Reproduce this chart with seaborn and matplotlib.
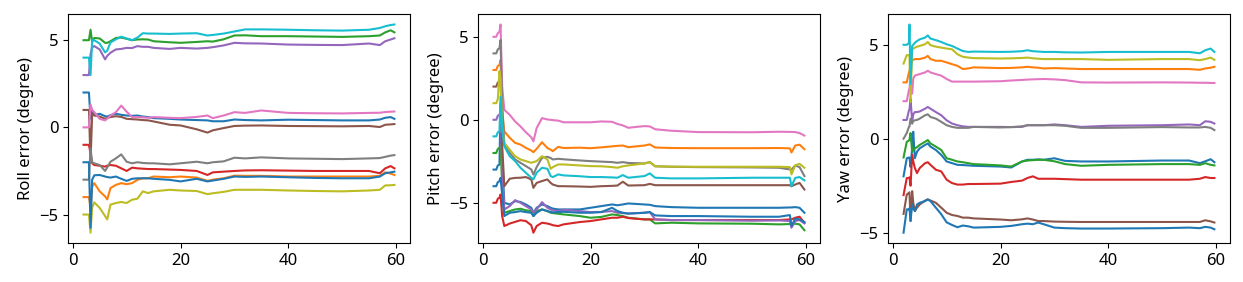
import matplotlib
matplotlib.use("Agg")
import matplotlib.pyplot as plt
import seaborn as sns
import pandas as pd

# ---------------- data ----------------
colors = ["#1f77b4", "#ff7f0e", "#2ca02c", "#d62728", "#9467bd",
          "#8c564b", "#e377c2", "#7f7f7f", "#bcbd22", "#17becf", "#1f77b4"]
series_names = ["s0", "s1", "s2", "s3", "s4", "s5", "s6", "s7", "s8", "s9", "s10"]

roll_t = [2.0, 3.0, 3.3, 3.6, 4.0, 5.0, 6.0, 6.4, 7.0, 8.0, 9.0, 10.0, 11.0, 12.0, 13.0, 14.0, 15.0,
          18.0, 20.0, 23.0, 25.0, 26.0, 28.0, 30.0, 32.0, 35.0, 40.0, 45.0, 50.0, 55.0, 57.0, 58.0, 59.0, 59.7]
roll_s0 = [2.0, 2.0, 0.5, 1.0, 0.7, 0.78, 0.64, 0.62, 0.7, 0.78, 0.72, 0.68, 0.66, 0.68, 0.62, 0.59, 0.53,
           0.49, 0.45, 0.42, 0.4, 0.35, 0.35, 0.45, 0.42, 0.4, 0.44, 0.42, 0.4, 0.4, 0.45, 0.55, 0.59, 0.49]
roll_s1 = [-4.0, -4.0, -4.6, -3.4, -3.2, -3.67, -3.96, -4.13, -3.48, -3.3, -3.2, -3.26, -3.2, -3.01, -2.92, -2.92, -2.82,
           -2.86, -2.82, -2.88, -3.07, -3.0, -2.92, -2.77, -2.78, -2.78, -2.82, -2.82, -2.82, -2.82, -2.78, -2.58, -2.65, -2.73]
roll_s2 = [5.0, 5.0, 5.6, 4.9, 5.13, 5.1, 4.85, 4.85, 4.94, 5.13, 5.15, 5.08, 5.0, 5.04, 5.05, 5.04, 4.94,
           4.88, 4.85, 4.9, 4.94, 4.92, 5.05, 5.27, 5.28, 5.23, 5.23, 5.21, 5.19, 5.23, 5.27, 5.45, 5.57, 5.45]
roll_s3 = [-1.0, -1.0, -1.5, -2.06, -2.16, -2.2, -2.25, -2.2, -2.16, -2.2, -2.35, -2.5, -2.31, -2.35, -2.37, -2.39, -2.39,
           -2.42, -2.44, -2.5, -2.73, -2.58, -2.54, -2.5, -2.47, -2.46, -2.48, -2.5, -2.5, -2.5, -2.63, -2.35, -2.22, -2.35]
roll_s4 = [3.0, 3.0, 4.2, 4.6, 4.66, 4.47, 3.9, 4.1, 4.28, 4.47, 4.5, 4.56, 4.55, 4.66, 4.62, 4.62, 4.56,
           4.5, 4.56, 4.52, 4.56, 4.6, 4.7, 4.85, 4.82, 4.81, 4.75, 4.73, 4.72, 4.81, 4.72, 4.94, 5.04, 5.11]
roll_s5 = [1.0, 1.0, -2.0, 0.8, 0.68, 0.62, 0.49, 0.55, 0.59, 0.64, 0.6, 0.49, 0.47, 0.45, 0.42, 0.4, 0.34,
           0.15, 0.11, -0.11, -0.3, -0.17, -0.04, 0.08, 0.1, 0.11, 0.08, 0.07, 0.06, 0.08, 0.02, 0.15, 0.17, 0.19]
roll_s6 = [0.0, 0.0, 1.3, 1.0, 0.87, 0.49, 0.4, 0.5, 0.68, 0.87, 1.25, 0.9, 0.59, 0.59, 0.57, 0.55, 0.59,
           0.55, 0.53, 0.6, 0.68, 0.53, 0.68, 0.87, 0.83, 0.97, 0.83, 0.81, 0.8, 0.83, 0.84, 0.88, 0.9, 0.91]
roll_s7 = [-3.0, -3.0, -1.2, -2.0, -2.06, -2.16, -2.5, -2.3, -1.97, -1.78, -1.55, -1.97, -2.06, -2.0, -2.04, -2.06, -2.06,
           -2.12, -2.06, -1.97, -2.06, -2.0, -1.95, -1.74, -1.78, -1.72, -1.78, -1.8, -1.82, -1.78, -1.76, -1.69, -1.62, -1.59]
roll_s8 = [-5.0, -5.0, -6.04, -4.6, -4.3, -4.62, -5.09, -5.28, -4.43, -4.34, -4.28, -4.34, -4.15, -4.09, -3.67, -3.77, -3.67,
           -3.58, -3.62, -3.65, -3.83, -3.78, -3.7, -3.58, -3.58, -3.58, -3.62, -3.65, -3.67, -3.62, -3.58, -3.33, -3.32, -3.3]
roll_s9 = [4.0, 4.0, 3.0, 5.0, 5.0, 4.8, 4.3, 4.4, 4.87, 5.05, 5.2, 5.1, 5.0, 5.15, 5.4, 5.38, 5.38,
           5.36, 5.38, 5.4, 5.27, 5.3, 5.38, 5.5, 5.62, 5.62, 5.6, 5.57, 5.55, 5.6, 5.7, 5.8, 5.87, 5.9]
roll_s10 = [-2.0, -2.0, -5.76, -3.0, -2.75, -2.73, -2.82, -2.85, -2.88, -2.82, -2.95, -3.07, -2.95, -2.92, -2.92, -2.92, -2.95,
            -3.01, -3.1, -2.95, -3.1, -3.05, -2.95, -2.82, -2.84, -2.82, -2.86, -2.9, -2.92, -2.92, -2.82, -2.63, -2.58, -2.54]

pitch_t = [2.0, 2.5, 2.8, 3.1, 3.3, 3.6, 4.0, 5.0, 6.0, 7.0, 8.0, 9.0, 9.4, 10.0, 11.0, 12.0, 12.6, 13.0, 14.0, 15.0,
           18.0, 20.0, 22.0, 24.0, 25.0, 26.0, 27.0, 30.0, 31.0, 32.0, 35.0, 40.0, 50.0, 55.0, 57.0, 57.3, 58.0, 58.8, 59.7]
pitch_s0 = [-3.0, -3.0, -2.75, -2.7, 1.0, -2.5, -5.0, -5.1, -4.9, -4.95, -5.1, -5.3, -5.6, -5.3, -5.1, -5.2, -5.3, -5.35, -5.4, -5.4,
            -5.4, -5.3, -5.2, -5.1, -5.15, -5.1, -5.04, -5.1, -5.12, -5.2, -5.26, -5.3, -5.3, -5.3, -5.28, -5.28, -5.26, -5.3, -5.6]
pitch_s1 = [3.0, 3.0, 3.25, 3.3, 3.6, 0.5, -0.7, -1.08, -1.39, -1.49, -1.69, -1.85, -1.95, -1.75, -1.35, -1.7, -1.8, -1.89, -1.63, -1.7,
            -1.68, -1.71, -1.66, -1.6, -1.57, -1.55, -1.65, -1.55, -1.48, -1.67, -1.7, -1.71, -1.71, -1.7, -1.72, -1.97, -1.55, -1.5, -1.77]
pitch_s2 = [-2.0, -2.0, -1.75, -1.7, -1.5, -4.0, -5.6, -5.5, -5.4, -5.36, -5.45, -5.5, -5.8, -5.5, -5.4, -5.5, -5.6, -5.62, -5.66, -5.7,
            -5.8, -5.9, -5.85, -5.7, -5.74, -5.8, -5.9, -6.0, -6.0, -6.24, -6.2, -6.24, -6.26, -6.3, -6.28, -6.28, -6.26, -6.3, -6.65]
pitch_s3 = [-5.0, -5.0, -4.75, -4.7, -4.5, -5.8, -6.4, -6.25, -6.15, -6.05, -6.1, -6.35, -6.8, -6.4, -6.2, -6.25, -6.3, -6.35, -6.4, -6.3,
            -6.16, -6.1, -6.0, -5.9, -5.9, -5.84, -5.92, -6.0, -6.0, -6.0, -6.04, -6.04, -6.04, -6.04, -6.0, -6.0, -5.9, -5.84, -6.2]
pitch_s4 = [0.0, 0.0, 0.25, 0.3, 0.5, -3.0, -5.4, -5.2, -4.84, -5.0, -5.2, -5.4, -5.6, -5.4, -4.96, -5.3, -5.4, -5.45, -5.5, -5.42,
            -5.5, -5.56, -5.55, -5.5, -5.6, -5.62, -5.65, -5.6, -5.56, -6.0, -6.04, -6.04, -6.08, -6.06, -6.1, -6.5, -6.1, -6.04, -6.24]
pitch_s5 = [2.0, 2.0, 2.25, 2.3, 2.5, -1.5, -4.0, -3.55, -3.5, -3.49, -3.45, -3.59, -4.1, -3.8, -3.69, -3.59, -3.8, -3.9, -4.0, -4.0,
            -4.02, -4.04, -4.0, -3.98, -3.96, -3.73, -3.96, -3.94, -3.86, -3.94, -3.94, -3.94, -3.94, -3.94, -3.94, -4.0, -3.9, -3.8, -4.2]
pitch_s6 = [5.0, 5.0, 5.22, 5.3, 5.74, 2.0, 0.6, 0.3, -0.1, -0.4, -0.75, -1.05, -1.3, -0.5, 0.1, 0.02, 0.0, -0.02, -0.05, -0.15,
            -0.15, -0.15, -0.1, -0.12, -0.25, -0.34, -0.48, -0.38, -0.4, -0.57, -0.66, -0.74, -0.75, -0.72, -0.73, -0.73, -0.74, -0.8, -0.95]
pitch_s7 = [4.0, 4.0, 4.25, 4.3, 4.8, 1.0, -1.5, -2.0, -2.39, -2.59, -2.79, -2.99, -3.3, -2.85, -2.29, -2.23, -2.3, -2.39, -2.35, -2.38,
            -2.45, -2.49, -2.52, -2.55, -2.59, -2.55, -2.6, -2.63, -2.55, -2.8, -2.83, -2.85, -2.87, -2.89, -2.99, -3.0, -2.75, -2.85, -3.39]
pitch_s8 = [1.0, 1.0, 1.25, 2.93, 2.5, -0.5, -1.4, -1.8, -2.19, -2.39, -2.49, -2.59, -2.55, -2.49, -2.19, -2.39, -2.95, -2.85, -2.69, -2.69,
            -2.75, -2.79, -2.8, -2.85, -2.89, -2.8, -2.75, -2.63, -2.55, -2.8, -2.82, -2.83, -2.83, -2.83, -2.85, -3.29, -2.75, -2.65, -2.89]
pitch_s9 = [-1.0, -1.0, -0.75, -0.7, 1.39, -0.5, -1.59, -2.19, -2.49, -2.89, -3.19, -3.49, -3.59, -3.19, -2.89, -2.95, -3.39, -3.45, -3.29, -3.35,
            -3.4, -3.45, -3.45, -3.47, -3.49, -3.33, -3.49, -3.39, -3.23, -3.49, -3.53, -3.53, -3.49, -3.49, -3.49, -4.0, -3.5, -3.45, -3.65]
pitch_s10 = [-4.0, -4.0, -3.75, -3.7, -3.5, -4.5, -5.8, -5.6, -5.56, -5.5, -5.56, -5.6, -5.8, -5.6, -5.4, -5.5, -5.55, -5.58, -5.56, -5.54,
             -5.6, -5.6, -5.56, -5.3, -5.5, -5.6, -5.65, -5.6, -5.56, -5.76, -5.8, -5.8, -5.84, -5.84, -5.74, -6.4, -5.95, -6.0, -6.16]

yaw_t = [2.0, 2.6, 3.0, 3.1, 3.3, 3.6, 3.8, 4.1, 4.5, 5.0, 6.0, 6.5, 7.0, 8.0, 9.0, 10.0, 11.0, 12.0, 13.0, 14.0, 15.0,
         20.0, 22.0, 24.0, 25.0, 26.0, 27.0, 28.0, 30.0, 32.0, 35.0, 40.0, 50.0, 55.0, 57.0, 58.0, 59.0, 59.7]
yaw_s0 = [-2.0, -1.04, -1.0, -1.0, -1.5, -0.5, 0.37, -1.04, -0.69, -0.51, -0.33, -0.25, -0.42, -0.6, -0.86, -1.21, -1.3, -1.39, -1.4, -1.42, -1.44,
          -1.48, -1.53, -1.21, -1.12, -1.12, -1.1, -1.12, -1.04, -1.18, -1.21, -1.21, -1.16, -1.16, -1.3, -1.2, -1.09, -1.25]
yaw_s1 = [3.0, 3.0, 3.53, 3.6, 3.88, 4.15, 4.2, 4.24, 4.24, 4.24, 4.32, 4.41, 4.24, 4.15, 4.15, 4.06, 3.97, 3.88, 3.71, 3.74, 3.8,
          3.76, 3.77, 3.8, 3.83, 3.8, 3.78, 3.74, 3.76, 3.74, 3.71, 3.71, 3.71, 3.71, 3.67, 3.74, 3.78, 3.83]
yaw_s2 = [-1.0, -0.16, -0.1, -0.05, 0.3, -0.69, -0.6, -0.51, -0.45, -0.33, -0.16, -0.07, -0.25, -0.42, -0.6, -1.04, -1.12, -1.21, -1.25, -1.3, -1.35,
          -1.42, -1.48, -1.21, -1.16, -1.14, -1.12, -1.12, -1.2, -1.35, -1.44, -1.39, -1.35, -1.35, -1.39, -1.3, -1.39, -1.42]
yaw_s3 = [-3.0, -2.09, -2.09, -2.05, -2.5, -0.86, -1.2, -1.56, -1.83, -1.56, -1.3, -1.25, -1.39, -1.65, -1.74, -2.18, -2.36, -2.44, -2.44, -2.41, -2.41,
          -2.39, -2.3, -2.23, -2.09, -2.0, -2.13, -2.13, -2.13, -2.15, -2.18, -2.18, -2.18, -2.18, -2.13, -2.04, -2.09, -2.09]
yaw_s4 = [1.0, 1.0, 1.51, 1.55, 2.13, 0.9, 1.3, 1.42, 1.42, 1.45, 1.6, 1.69, 1.6, 1.42, 1.25, 0.98, 0.81, 0.72, 0.66, 0.63, 0.63,
          0.63, 0.62, 0.63, 0.72, 0.72, 0.72, 0.72, 0.76, 0.72, 0.63, 0.69, 0.72, 0.76, 0.72, 0.93, 0.9, 0.81]
yaw_s5 = [-4.0, -2.97, -2.88, -2.85, -4.38, -2.79, -3.4, -3.85, -3.67, -3.5, -3.29, -3.23, -3.29, -3.41, -3.67, -3.94, -4.06, -4.11, -4.2, -4.2, -4.24,
          -4.3, -4.34, -4.29, -4.24, -4.3, -4.38, -4.38, -4.41, -4.42, -4.43, -4.43, -4.43, -4.43, -4.43, -4.34, -4.4, -4.46]
yaw_s6 = [2.0, 2.0, 2.6, 2.65, 3.3, 2.4, 3.2, 3.36, 3.4, 3.44, 3.53, 3.62, 3.53, 3.44, 3.36, 3.18, 3.04, 3.04, 3.04, 3.04, 3.04,
          3.06, 3.1, 3.13, 3.15, 3.16, 3.17, 3.18, 3.16, 3.12, 3.0, 2.99, 3.0, 2.99, 2.98, 2.98, 2.97, 2.97]
yaw_s7 = [0.0, 0.3, 0.63, 0.65, 1.07, 0.8, 0.95, 0.98, 1.0, 1.07, 1.25, 1.3, 1.16, 1.07, 0.9, 0.72, 0.63, 0.58, 0.58, 0.58, 0.63,
          0.6, 0.62, 0.66, 0.72, 0.72, 0.72, 0.72, 0.72, 0.69, 0.58, 0.58, 0.62, 0.6, 0.6, 0.63, 0.58, 0.46]
yaw_s8 = [4.0, 4.45, 4.45, 4.4, 1.95, 4.76, 4.8, 4.85, 4.9, 4.94, 5.03, 5.15, 4.98, 4.9, 4.85, 4.8, 4.76, 4.5, 4.36, 4.32, 4.29,
          4.27, 4.28, 4.3, 4.32, 4.28, 4.26, 4.24, 4.24, 4.24, 4.24, 4.2, 4.24, 4.24, 4.18, 4.24, 4.32, 4.2]
yaw_s9 = [5.0, 5.0, 5.1, 6.08, 2.9, 4.94, 5.0, 5.11, 5.2, 5.29, 5.38, 5.5, 5.33, 5.25, 5.15, 5.03, 4.94, 4.8, 4.67, 4.62, 4.64,
          4.62, 4.63, 4.66, 4.71, 4.66, 4.64, 4.62, 4.62, 4.6, 4.59, 4.62, 4.62, 4.62, 4.55, 4.71, 4.8, 4.62]
yaw_s10 = [-5.0, -3.76, -3.76, -3.7, -4.38, -3.5, -3.7, -3.85, -3.5, -3.41, -3.32, -3.23, -3.32, -3.67, -4.02, -4.45, -4.59, -4.71, -4.62, -4.66, -4.73,
           -4.69, -4.64, -4.55, -4.52, -4.55, -4.46, -4.55, -4.73, -4.76, -4.78, -4.78, -4.76, -4.73, -4.76, -4.69, -4.73, -4.82]

panel_labels = ["Roll error (degree)", "Pitch error (degree)", "Yaw error (degree)"]
x_ticks = [0, 20, 40, 60]
y_ticks = [-5, 0, 5]

panels = [
    (roll_t, [roll_s0, roll_s1, roll_s2, roll_s3, roll_s4, roll_s5, roll_s6, roll_s7, roll_s8, roll_s9, roll_s10]),
    (pitch_t, [pitch_s0, pitch_s1, pitch_s2, pitch_s3, pitch_s4, pitch_s5, pitch_s6, pitch_s7, pitch_s8, pitch_s9, pitch_s10]),
    (yaw_t, [yaw_s0, yaw_s1, yaw_s2, yaw_s3, yaw_s4, yaw_s5, yaw_s6, yaw_s7, yaw_s8, yaw_s9, yaw_s10]),
]

# ---------------- plotting ----------------
plt.rcParams["font.family"] = ["Noto Sans", "DejaVu Sans"]
plt.rcParams["font.size"] = 12

fig, axes = plt.subplots(1, 3, figsize=(12.43, 2.82), dpi=100)
fig.subplots_adjust(left=0.0547, right=0.9895, top=0.950, bottom=0.138, wspace=0.199)

for ax, (t, ys), label in zip(axes, panels, panel_labels):
    rows = []
    for name, vals in zip(series_names, ys):
        for tt, vv in zip(t, vals):
            rows.append({"t": tt, "v": vv, "series": name})
    df = pd.DataFrame(rows)
    sns.lineplot(data=df, x="t", y="v", hue="series", hue_order=series_names,
                 palette=colors, estimator=None, sort=False, legend=False,
                 linewidth=1.5, ax=ax)
    ax.set_xlabel("")
    ax.set_ylabel(label, fontsize=12)
    ax.set_xticks(x_ticks)
    ax.set_yticks(y_ticks)
    ax.set_yticklabels(["\u22125", "0", "5"])
    ax.tick_params(labelsize=12)

fig.savefig("out.png", dpi=100)
